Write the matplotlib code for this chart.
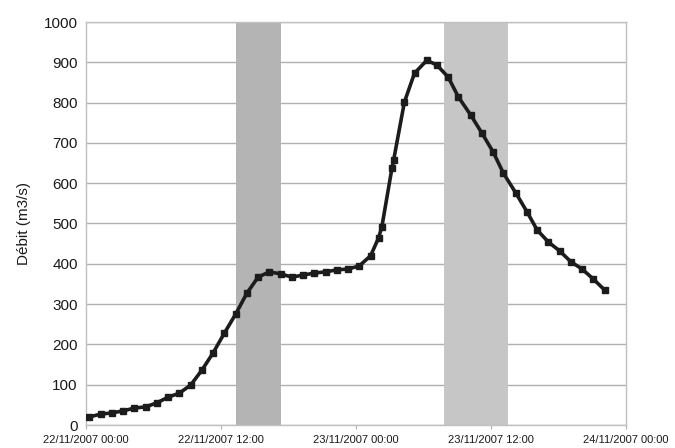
import matplotlib
matplotlib.use("Agg")
import matplotlib.pyplot as plt

plt.rcParams['font.family'] = ['Liberation Sans', 'DejaVu Sans']

# Data: hours since 22/11/2007 00:00 and discharge (m3/s)
hours = [0.3, 1.3, 2.3, 3.3, 4.3, 5.3, 6.3, 7.3, 8.3, 9.3, 10.3, 11.3, 12.3,
         13.3, 14.3, 15.3, 16.3, 17.3, 18.3, 19.3, 20.3, 21.3, 22.3, 23.3,
         24.3, 25.3, 26.0, 26.3, 27.2, 27.35, 28.3, 29.2, 30.3, 31.2, 32.2,
         33.1, 34.2, 35.2, 36.2, 37.1, 38.2, 39.2, 40.1, 41.1, 42.1, 43.1,
         44.1, 45.1, 46.1]
debit = [20, 27, 30, 35, 42, 45, 55, 69, 79, 99, 136, 179, 228,
         275, 327, 367, 380, 375, 367, 372, 377, 380, 385, 387,
         395, 420, 464, 492, 638, 658, 801, 873, 905, 893, 863,
         814, 769, 724, 677, 625, 576, 529, 484, 454, 432, 405,
         387, 362, 335]

# Shaded periods (hours)
bands = [(13.37, 17.3), (31.8, 37.5)]
band_colors = ['#b4b4b4', '#c6c6c6']

xtick_pos = [0, 12, 24, 36, 48]
xtick_labels = ['22/11/2007 00:00', '22/11/2007 12:00', '23/11/2007 00:00',
                '23/11/2007 12:00', '24/11/2007 00:00']
ytick_pos = list(range(0, 1001, 100))

fig = plt.figure(figsize=(6.75, 4.48), dpi=100)
ax = fig.add_axes([86/675, 1-425/448, 540/675, 403/448])

for (a, b), c in zip(bands, band_colors):
    ax.axvspan(a, b, color=c, lw=0, zorder=1)

ax.set_yticks(ytick_pos)
ax.grid(axis='y', color='#b0b0b0', lw=1.0, zorder=0.5)
ax.set_axisbelow(True)

ax.plot(hours, debit, color='#1c1c1c', lw=2.6, marker='s', ms=3.8,
        markerfacecolor='#1c1c1c', markeredgecolor='#1c1c1c', zorder=3)

ax.set_xlim(0, 48)
ax.set_ylim(0, 1000)
ax.set_xticks(xtick_pos)
ax.set_xticklabels(xtick_labels, fontsize=8, color='#1a1a1a')
ax.tick_params(axis='x', length=3, color='#b0b0b0', pad=4)
ax.tick_params(axis='y', length=0, pad=6, labelsize=11, labelcolor='#1a1a1a')

for s in ax.spines.values():
    s.set_color('#c0c0c0')
    s.set_linewidth(1.0)

ax.set_ylabel('Débit (m3/s)', fontsize=11, color='#1a1a1a', labelpad=9)

fig.savefig('out.png', dpi=100)
